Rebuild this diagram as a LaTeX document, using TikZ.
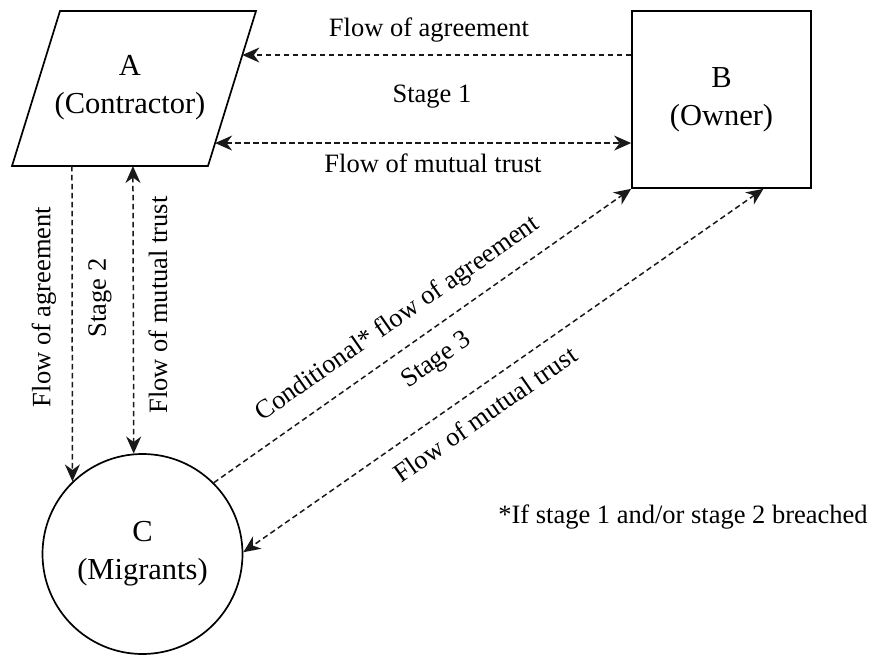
\documentclass[tikz,border=0pt]{standalone}
\usepackage{fontspec}
\setmainfont{Liberation Serif}
\usetikzlibrary{arrows.meta,calc}
\tikzset{
  shapeline/.style={draw=black, line width=1.7pt},
  flow/.style={line width=1.5pt, dash pattern=on 5.5pt off 3.5pt, draw=black!90},
  tipstyle/.style={},
  fwd/.style={flow, -{Stealth[length=17pt,width=15pt,inset=5.5pt]}},
  both/.style={flow, {Stealth[length=17pt,width=15pt,inset=5.5pt]}-{Stealth[length=17pt,width=15pt,inset=5.5pt]}},
  nodetext/.style={font=\fontsize{30.5}{38}\selectfont, align=center},
  lbl/.style={font=\fontsize{26.5}{32}\selectfont, inner sep=0pt},
}
\begin{document}
\begin{tikzpicture}[x=1pt,y=-1pt]
\useasboundingbox[fill=white] (0,0) rectangle (871,655);
% A (parallelogram)
\coordinate (Atl) at (60,11);
\coordinate (Atr) at (256,11);
\coordinate (Abr) at (208,166);
\coordinate (Abl) at (12,166);
\draw[shapeline] (Atl) -- (Atr) -- (Abr) -- (Abl) -- cycle;
\node[nodetext] (A) at (130,88) {A\\(Contractor)};
% B
\node[shapeline, minimum width=179pt, minimum height=177pt, inner sep=0pt, nodetext] (B) at (721.5,99.5) {B\\(Owner)};
% C
\node[circle, shapeline, minimum size=200pt, inner sep=0pt, nodetext] (C) at (142.5,554) {C\\(Migrants)};
% connector end points
\coordinate (a1) at ($(Atr)!0.284!(Abr)$);
\coordinate (a2) at ($(Atr)!0.852!(Abr)$);
\coordinate (a3) at ($(Abl)!0.306!(Abr)$);
\coordinate (a4) at ($(Abl)!0.617!(Abr)$);
\coordinate (b1) at ($(B.south west)!0.732!(B.south east)$);
% connectors
\draw[fwd] (B.west |- a1) -- (a1);
\draw[both] (a2) -- (B.west |- a2);
\draw[fwd] (a3) -- (C.134.8);
\draw[both] (a4) -- (C.95.5);
\draw[fwd] (C.45.6) -- (B.south west);
\draw[both] (b1) -- (C.1);
% labels
\node[lbl] (l1) at (429,30) {Flow of agreement};
\node[lbl] (l2) at (432,97) {Stage 1};
\node[lbl] (l3) at (433,163) {Flow of mutual trust};
\node[lbl, rotate=90] (l4) at (44,307) {Flow of agreement};
\node[lbl, rotate=90] (l5) at (100,298) {Stage 2};
\node[lbl, rotate=90] (l6) at (158,305) {Flow of mutual trust};
\node[lbl, rotate=34.9] (l7) at (398,319) {Conditional* flow of agreement};
\node[lbl, rotate=34.9] (l8) at (437,361) {Stage 3};
\node[lbl, rotate=34.9] (l9) at (485,414) {Flow of mutual trust};
\node[lbl] (l10) at (683,517) {*If stage 1 and/or stage 2 breached};
\end{tikzpicture}
\end{document}
